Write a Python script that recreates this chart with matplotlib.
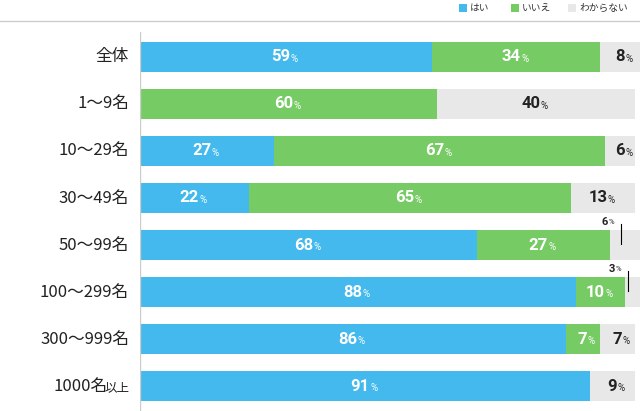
import matplotlib
matplotlib.use("Agg")
import matplotlib.pyplot as plt
from matplotlib.patches import Rectangle
import numpy as np

plt.rcParams['font.family'] = ['Noto Sans CJK JP', 'DejaVu Sans']
numFont = ['Roboto', 'DejaVu Sans']

categories = ["全体", "1〜9名", "10〜29名", "30〜49名", "50〜99名", "100〜299名", "300〜999名", "1000名以上"]
yes = [59, 0, 27, 22, 68, 88, 86, 91]
no = [34, 60, 67, 65, 27, 10, 7, 0]
unknown = [8, 40, 6, 13, 6, 3, 7, 9]
seriesNames = ["はい", "いいえ", "わからない"]
colors = ["#43b9ed", "#77cb65", "#e8e8e8"]
textColors = ["white", "white", "#222222"]

fig = plt.figure(figsize=(6.4, 4.11), dpi=100)
ax = fig.add_axes([140/640, 0, 495/640, 379/411])
ax.set_xlim(0, 100)
ax.set_ylim(7.53, -0.53)
ax.axis("off")
ax.axvline(0, color="#cccccc", lw=1, ymin=0, ymax=1)

y = np.arange(len(categories))
data = [yes, no, unknown]
left = np.zeros(len(categories))
for s in range(3):
    vals = np.array(data[s], dtype=float)
    ax.barh(y, vals, left=left, height=0.64, color=colors[s], linewidth=0, clip_on=False)
    for i, v in enumerate(vals):
        if v == 0:
            continue
        cx = left[i] + v / 2
        if s == 2 and (i == 4 or i == 5):
            # small values: label above with leader line
            lx = 97.2 if i == 4 else 98.6
            ax.plot([lx, lx], [i - 0.44, i - 0.02], color="black", lw=0.8, clip_on=False)
            ax.text(lx - 2.6, i - 0.5, f"{int(v)}", ha="right", va="center",
                    fontsize=8, fontweight="bold", color="#222222", family=numFont)
            ax.text(lx - 2.6, i - 0.48, "%", ha="left", va="center", fontsize=5.5,
                    color="#222222", family=numFont)
            continue
        ax.text(cx + 0.9, i, f"{int(v)}", ha="right", va="center",
                fontsize=12, fontweight="bold", color=textColors[s], family=numFont)
        ax.text(cx + 1.0, i + 0.05, "%", ha="left", va="center",
                fontsize=7, color=textColors[s], family=numFont)
    left += vals

for i, c in enumerate(categories):
    if c.endswith("以上"):
        ax.text(-2.2, i + 0.03, "以上", ha="right", va="center", fontsize=9, color="#222222")
        ax.text(-6.6, i, c[:-2], ha="right", va="center", fontsize=12, color="#222222")
    else:
        ax.text(-2.2, i, c, ha="right", va="center", fontsize=12, color="#222222")

# top rule
fig.add_artist(plt.Line2D([0, 1], [1 - 21/411, 1 - 21/411], color="#cccccc", lw=1))

# legend
legX = [459, 511, 568]
for s in range(3):
    fig.add_artist(Rectangle((legX[s]/640, 1 - 12/411), 8/640, 8/411, color=colors[s], lw=0))
    fig.text((legX[s] + 11)/640, 1 - 8/411, seriesNames[s], ha="left", va="center",
             fontsize=7, color="#333333")

fig.savefig("out.png", dpi=100)
